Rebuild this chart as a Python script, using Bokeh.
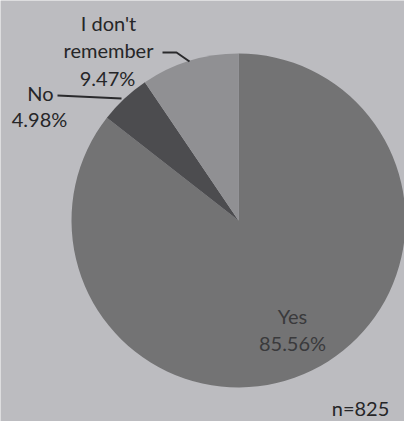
import numpy as np
from bokeh.plotting import figure
from bokeh.models import ColumnDataSource, Range1d
from bokeh.core.properties import value
from bokeh.embed import file_html
from bokeh.resources import INLINE

# ---- data ----
categories = ["Yes", "No", "I don't remember"]
percents = [85.56, 4.98, 9.47]
pct_labels = ["85.56%", "4.98%", "9.47%"]
note = "n=825"

colors = ["#737374", "#4c4c4f", "#909093"]
BG = "#bcbcc0"
FONT = "Lato"

W, H = 404, 421
p = figure(width=W, height=H, output_backend="svg", toolbar_location=None,
           x_range=Range1d(0, W), y_range=Range1d(0, H), min_border=0)
p.axis.visible = False
p.grid.visible = False
p.outline_line_color = None
p.background_fill_color = BG
p.border_fill_color = BG

frac = np.array(percents) / np.sum(percents)
cum = np.concatenate([[0], np.cumsum(frac)])
start = np.pi / 2 - cum[:-1] * 2 * np.pi
end = np.pi / 2 - cum[1:] * 2 * np.pi

cx, cy, r = 238, 201, 167
src = ColumnDataSource(dict(start=start, end=end, color=colors))
p.wedge(x=cx, y=cy, radius=r, start_angle="start", end_angle="end",
        direction="clock", fill_color="color", line_color=None, source=src)

txt = dict(text_font=value(FONT), text_font_size="20px", text_align="center",
           text_baseline="middle")

# Yes label inside
p.text(x=[292, 292], y=[106, 79], text=[categories[0], pct_labels[0]],
       text_color="#3a3a3c", **txt)
# I don't remember label
p.text(x=[108, 108, 107], y=[399, 372, 344], text=["I don't", "remember", pct_labels[2]],
       text_color="#262628", **txt)
# No label
p.text(x=[40, 39], y=[329, 303], text=[categories[1], pct_labels[1]],
       text_color="#262628", **txt)
# n
p.text(x=[360], y=[14], text=[note], text_color="#262628", **txt)

# leader lines
p.line(x=[162, 176, 189], y=[369, 369, 360], line_color="#2a2a2c", line_width=2)
p.line(x=[57, 121], y=[326, 323], line_color="#2a2a2c", line_width=2)

open("out.html", "w").write(file_html(p, INLINE))
